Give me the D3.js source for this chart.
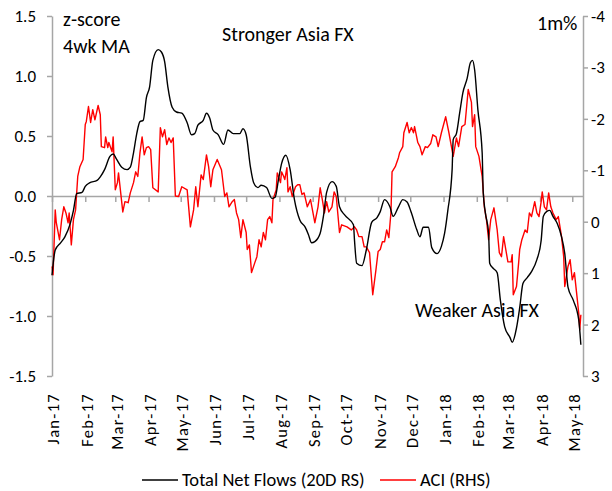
<!DOCTYPE html>
<html>
<head>
<meta charset="utf-8">
<script src="https://cdn.jsdelivr.net/npm/d3@7"></script>
<style>
  body { margin: 0; background: #fff; }
  svg text { font-family: Carlito, Calibri, Lato, sans-serif; fill: #000; }
</style>
</head>
<body>
<svg width="612" height="491"></svg>
<script>
// days counted from 1 Jan 2017
const flowDay = [0,3,8,12,17,20,23,28,31,35, 42,45,49,54,57,60,65,70,73,76,
  79,82,85,88,91,94,99,102,105,108, 112,116,121,126,130,133,136,141,144,147,
  150,155,160,164,169,175,178,181,185,188, 192,195,200,205,208,211,214,218,222,226,
  231,236,239,242,245,250,253,256,261,265, 268,273,281,282,284,289,293,298,303,306,
  310,315,318,323,327,331,335,340,343,346, 351,354,359,363,366,369,373,374,377,380,
  383,387,390,392,394,397,401,402,404,407, 408,411,415,418,422,427,429,433,436,439,
  443,447,452,456,458,461,464,467,471,475, 478,481,486,491,493];
const flowZ = [-0.66,-0.45,-0.39,-0.34,-0.23,-0.12,0.02,0.03,0.08,0.11, 0.13,0.16,0.22,0.33,0.35,0.31,0.24,0.22,0.24,0.36,
  0.52,0.62,0.63,0.82,0.91,1.13,1.22,1.20,1.12,0.91, 0.74,0.70,0.69,0.61,0.51,0.52,0.59,0.63,0.69,0.65,
  0.55,0.51,0.43,0.55,0.52,0.52,0.56,0.51,0.24,0.11, 0.07,0.09,0.07,-0.02,-0.01,0.13,0.27,0.34,0.22,-0.03,
  -0.20,-0.26,-0.32,-0.39,-0.38,-0.31,-0.17,0.03,0.12,0.08, -0.09,-0.16,-0.24,-0.37,-0.56,-0.58,-0.45,-0.22,-0.18,-0.13,
  -0.03,-0.09,-0.17,-0.09,-0.03,-0.05,-0.14,-0.28,-0.34,-0.26, -0.26,-0.43,-0.48,-0.42,-0.31,-0.12,0.22,0.47,0.52,0.69,
  0.86,0.98,1.11,1.13,1.05,0.72,0.36,0.03,-0.14,-0.31, -0.56,-0.60,-0.64,-0.87,-1.09,-1.18,-1.22,-1.10,-0.93,-0.73,
  -0.68,-0.63,-0.53,-0.37,-0.17,-0.13,-0.12,-0.17,-0.23,-0.34, -0.48,-0.76,-0.87,-1.03,-1.24];

const aciDay = [0,1,3,4,7,9,11,13,15,16, 18,20,22,24,26,29,31,32,34,36,
  38,40,43,45,46,49,50,52,53,56, 57,59,61,62,66,68,71,73,76,78,
  80,82,84,86,88,90,92,94,99,101, 103,105,107,109,111,113,115,118,121,126,
  129,132,134,136,139,141,144,146,148,150, 154,158,161,163,165,168,170,172,174,176,
  178,181,182,184,186,189,191,193,195,197, 199,201,203,205,206,209,210,213,214,216,
  217,219,220,222,224,227,229,231,233,235, 238,241,245,248,250,252,254,256,258,261,
  263,265,268,270,275,279,282,284,286,289, 291,293,296,299,302,304,306,308,310,312,
  314,316,317,320,323,324,327,328,331,333, 335,337,338,341,343,345,348,350,353,355,
  358,360,363,367,370,374,377,379,382,385, 388,391,392,394,395,398,400,401,403,405,
  407,409,412,415,417,419,421,423,425,428, 429,430,433,435,436,438,441,443,445,447,
  450,452,454,456,457,459,461,463,465,467, 470,472,475,477,478,481,483,485,487,489,
  491,492,493];
const aciPct = [0.87,1.03,-0.23,0.02,0.35,-0.04,-0.29,-0.17,0.02,-0.17, 0.45,-0.04,-0.23,-0.88,-1.07,-1.21,-1.89,-1.95,-2.24,-1.93,
  -2.18,-1.98,-2.26,-2.08,-1.46,-1.44,-1.65,-1.44,-1.54,-1.36, -1.65,-0.62,-0.76,-0.95,-0.19,-0.39,-0.37,-0.56,-0.76,-0.97,
  -0.88,-1.34,-1.65,-1.30,-1.44,-1.46,-1.40,-0.66,-0.58,-1.83, -1.65,-1.79,-1.50,-1.63,-1.54,-1.63,-0.50,-0.49,-0.68,-0.62,
  0.10,-0.23,-0.68,-0.29,-0.91,-0.82,-1.30,-1.07,-0.68,-1.01, -1.21,-1.01,-0.49,-0.56,-0.29,-0.39,-0.43,-0.17,-0.04,0.31,
  -0.04,0.21,0.54,0.45,0.99,0.80,0.68,0.35,0.49,0.21, 0.35,-0.04,-0.10,0.02,-0.43,-0.62,-0.95,-0.76,-0.97,-0.88,
  -0.82,-1.05,-0.58,-0.68,-0.49,-0.68,-0.72,-0.72,-0.53,-0.56, -0.29,-0.43,0.02,-0.29,-0.66,-0.43,-0.17,-0.39,-0.19,-0.29,
  -0.58,-0.49,0.21,0.06,0.10,0.16,0.10,0.16,0.29,0.29, 0.49,0.49,0.60,1.42,0.93,0.58,0.54,0.39,0.39,0.16,
  0.31,-0.19,-0.97,-1.07,-1.25,-1.34,-1.46,-1.73,-1.93,-1.73, -1.83,-1.73,-1.85,-1.54,-1.46,-1.30,-1.46,-1.44,-1.52,-1.69,
  -1.65,-1.46,-1.73,-2.04,-1.73,-1.27,-1.63,-1.46,-1.85,-1.89, -2.57,-2.32,-1.85,-2.08,-1.46,-1.27,-1.01,-0.88,-0.29,-0.04,
  0.35,-0.04,-0.27,0.16,0.60,0.68,0.29,0.54,0.78,0.78, 0.64,1.42,1.26,0.80,0.54,0.35,0.16,0.21,-0.17,-0.10,
  -0.39,-0.17,-0.10,-0.39,-0.58,-0.29,-0.23,-0.56,-0.29,-0.17, -0.04,-0.10,0.29,0.68,1.26,0.87,0.74,1.13,0.99,1.38,
  1.77,2.10,1.81];

const leftTicks = [-1.5, -1.0, -0.5, 0.0, 0.5, 1.0, 1.5];
const rightTicks = [-4, -3, -2, -1, 0, 1, 2, 3];
const monthLabels = ["Jan-17","Feb-17","Mar-17","Apr-17","May-17","Jun-17","Jul-17","Aug-17","Sep-17",
  "Oct-17","Nov-17","Dec-17","Jan-18","Feb-18","Mar-18","Apr-18","May-18"];

const start = new Date(2017, 0, 1), end = new Date(2018, 4, 11);
const toDate = d => d3.timeDay.offset(start, d);
const flows = d3.zip(flowDay, flowZ).map(([d, v]) => ({ date: toDate(d), v }));
const aci = d3.zip(aciDay, aciPct).map(([d, v]) => ({ date: toDate(d), v }));

const svg = d3.select("svg");
const axisColor = "#a6a6a6";

const x = d3.scaleTime().domain([start, end]).range([52, 583]);
const yL = d3.scaleLinear().domain([-1.5, 1.5]).range([376, 16]);
const yR = d3.scaleLinear().domain([-4, 3]).range([16, 376]);

function styleAxis(g) {
  g.select(".domain").attr("stroke", axisColor).attr("stroke-width", 1.5);
  g.selectAll(".tick line").attr("stroke", axisColor).attr("stroke-width", 1.5);
  g.selectAll(".tick text").attr("font-size", 17).attr("font-family", null).attr("fill", "#000");
}

svg.append("g").attr("transform", "translate(52,0)")
  .call(d3.axisLeft(yL).tickValues(leftTicks).tickFormat(d => d.toFixed(1))
    .tickSize(5).tickSizeOuter(0).tickPadding(11))
  .call(styleAxis);

svg.append("g").attr("transform", "translate(583,0)")
  .call(d3.axisRight(yR).tickValues(rightTicks).tickFormat(d => String(d))
    .tickSize(5).tickSizeOuter(0).tickPadding(3))
  .call(styleAxis);

// category axis drawn through zero
const months = d3.timeMonth.range(start, end);
svg.append("g").attr("transform", `translate(0,${yL(0)})`)
  .call(d3.axisBottom(x).tickValues(months).tickFormat("").tickSize(6).tickSizeOuter(0))
  .call(styleAxis);

svg.append("g").selectAll("text")
  .data(months)
  .join("text")
  .attr("transform", d => `translate(${x(d)},393) rotate(-90)`)
  .attr("text-anchor", "end")
  .attr("dy", "0.45em")
  .attr("font-size", 16.5)
  .attr("letter-spacing", 1.3)
  .text((d, i) => monthLabels[i]);

const lineL = d3.line().x(d => x(d.date)).y(d => yL(d.v)).curve(d3.curveMonotoneX);
const lineR = d3.line().x(d => x(d.date)).y(d => yR(d.v));

svg.append("path").datum(aci)
  .attr("fill", "none").attr("stroke", "#ff0000").attr("stroke-width", 1.4)
  .attr("stroke-linejoin", "round").attr("d", lineR);

svg.append("path").datum(flows)
  .attr("fill", "none").attr("stroke", "#000").attr("stroke-width", 1.4)
  .attr("stroke-linejoin", "round").attr("d", lineL);

// annotations
const notes = [
  { t: "z-score", x: 63, y: 26 },
  { t: "4wk MA", x: 63, y: 53 },
  { t: "Stronger Asia FX", x: 222, y: 41 },
  { t: "1m%", x: 537, y: 30 },
  { t: "Weaker Asia FX", x: 415, y: 317 }
];
svg.append("g").selectAll("text").data(notes).join("text")
  .attr("x", d => d.x).attr("y", d => d.y)
  .attr("font-size", 20)
  .text(d => d.t);

// legend
const legend = [
  { name: "Total Net Flows (20D RS)", color: "#000", x: 142 },
  { name: "ACI (RHS)", color: "#ff0000", x: 380 }
];
const lg = svg.append("g").selectAll("g").data(legend).join("g")
  .attr("transform", d => `translate(${d.x},480)`);
lg.append("line").attr("x1", 0).attr("x2", 36).attr("stroke", d => d.color).attr("stroke-width", 1.4);
lg.append("text").attr("x", 40).attr("dy", "0.35em").attr("font-size", 18.5).text(d => d.name);
</script>
</body>
</html>
